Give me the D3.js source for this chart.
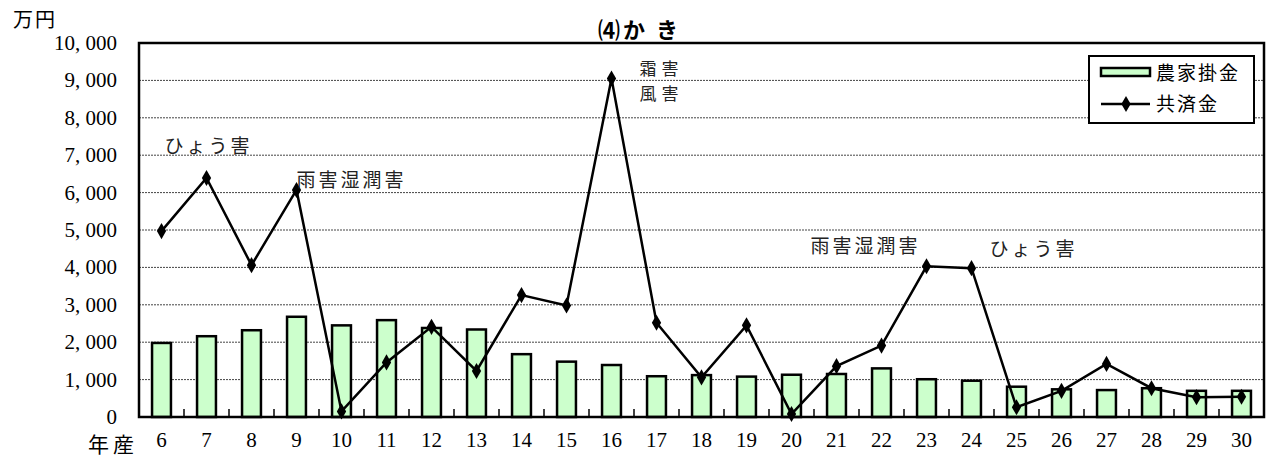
<!DOCTYPE html>
<html>
<head>
<meta charset="utf-8">
<script src="https://cdn.jsdelivr.net/npm/d3@7"></script>
<style>
  body { margin: 0; background: #fff; }
  .num { font-family: "Liberation Serif", "DejaVu Serif", "Times New Roman", serif; }
  .jp { font-family: "Noto Sans CJK JP", sans-serif; }
</style>
</head>
<body>
<svg width="1272" height="464"></svg>
<script>
const years = ["6","7","8","9","10","11","12","13","14","15","16","17","18","19","20","21","22","23","24","25","26","27","28","29","30"]
// 農家掛金 (bars)
const premium = [1980,2160,2320,2680,2450,2590,2380,2340,1680,1480,1390,1090,1120,1080,1130,1150,1300,1010,970,810,740,720,770,700,700]
// 共済金 (line)
const payout = [4970,6390,4060,6070,150,1460,2410,1230,3260,2980,9050,2520,1060,2450,80,1360,1910,4030,3980,260,700,1420,770,530,540]
const yTicks = [0,1000,2000,3000,4000,5000,6000,7000,8000,9000,10000]
// damage notes next to a year's point
const notes = [
    { year: "7", lines: ["ひょう害"], dx: -42, dy: -25 },
    { year: "9", lines: ["雨害湿潤害"], dx: 0, dy: -3 },
    { year: "16", lines: ["霜害", "風害"], dx: 28, dy: -4 },
    { year: "23", lines: ["雨害湿潤害"], dx: -116, dy: -13 },
    { year: "24", lines: ["ひょう害"], dx: 18, dy: -12 }
]

const svg = d3.select("svg"),
    pLeft = 139, pRight = 1264, pTop = 43, pBottom = 417

const x = d3.scaleBand().domain(years).range([pLeft, pRight]).paddingInner(0.58).paddingOuter(0.29)
const xc = d => x(d) + x.bandwidth() / 2
const y = d3.scaleLinear().domain([0, 10000]).range([pBottom, pTop])
const fmt = v => d3.format(",")(v).replace(",", ", ")

// grid lines
svg.append("g")
    .selectAll("line")
    .data(yTicks.slice(1, -1))
    .enter()
    .append("line")
    .attr("x1", pLeft).attr("x2", pRight)
    .attr("y1", d => y(d)).attr("y2", d => y(d))
    .attr("stroke", "#444")
    .attr("stroke-width", 1)
    .attr("stroke-dasharray", "2,1")

// y axis labels
svg.append("g")
    .selectAll("text")
    .data(yTicks)
    .enter()
    .append("text")
    .attr("class", "num")
    .attr("x", 117)
    .attr("y", d => y(d) + 7)
    .attr("text-anchor", "end")
    .attr("font-size", 21)
    .text(d => fmt(d))

svg.append("text").attr("class", "jp").attr("x", 13).attr("y", 27)
    .attr("font-size", 20).attr("letter-spacing", 2).text("万円")

// bars
svg.append("g")
    .selectAll("rect")
    .data(premium)
    .enter()
    .append("rect")
    .attr("x", (d, i) => x(years[i]))
    .attr("y", d => y(d))
    .attr("width", x.bandwidth())
    .attr("height", d => pBottom - y(d))
    .attr("fill", "#ccffcc")
    .attr("stroke", "#000")
    .attr("stroke-width", 2.5)

// category ticks
const step = x.step()
svg.append("g")
    .selectAll("line")
    .data(years.slice(0, -1))
    .enter()
    .append("line")
    .attr("x1", d => xc(d) + step / 2).attr("x2", d => xc(d) + step / 2)
    .attr("y1", pBottom).attr("y2", pBottom - 8)
    .attr("stroke", "#000").attr("stroke-width", 1.5)

// plot frame
svg.append("rect")
    .attr("x", pLeft).attr("y", pTop)
    .attr("width", pRight - pLeft).attr("height", pBottom - pTop)
    .attr("fill", "none").attr("stroke", "#000").attr("stroke-width", 2.5)

// line
const line = d3.line().x((d, i) => xc(years[i])).y(d => y(d))
svg.append("path")
    .datum(payout)
    .attr("d", line)
    .attr("fill", "none")
    .attr("stroke", "#000")
    .attr("stroke-width", 2.5)

const diamond = d3.symbol().type(d3.symbolDiamond).size(75)
svg.append("g")
    .selectAll("path")
    .data(payout)
    .enter()
    .append("path")
    .attr("d", diamond)
    .attr("transform", (d, i) => `translate(${xc(years[i])},${y(d)})`)
    .attr("fill", "#000")

// x labels
svg.append("g")
    .selectAll("text")
    .data(years)
    .enter()
    .append("text")
    .attr("class", "num")
    .attr("x", d => xc(d))
    .attr("y", 447)
    .attr("text-anchor", "middle")
    .attr("font-size", 21)
    .text(d => d)

svg.append("text").attr("class", "jp").attr("x", 88).attr("y", 452)
    .attr("font-size", 21).attr("letter-spacing", 4).text("年産")

// title
svg.append("text").attr("class", "jp")
    .attr("x", 598).attr("y", 38)
    .attr("font-size", 22).attr("font-weight", "bold").attr("letter-spacing", 3)
    .text("⑷か き")

// notes
notes.forEach(function (n) {
    const v = payout[years.indexOf(n.year)]
    const multi = n.lines.length > 1
    n.lines.forEach(function (s, k) {
        svg.append("text").attr("class", "jp")
            .attr("x", xc(n.year) + n.dx)
            .attr("y", y(v) + n.dy + k * 25)
            .attr("font-size", multi ? 17 : 19)
            .attr("letter-spacing", multi ? 5 : 3)
            .attr("fill", "#222")
            .text(s)
    })
})

// legend
const lg = svg.append("g").attr("transform", "translate(1089,56)")
lg.append("rect").attr("width", 165).attr("height", 67)
    .attr("fill", "#fff").attr("stroke", "#000").attr("stroke-width", 2)
lg.append("rect").attr("x", 12).attr("y", 12).attr("width", 49).attr("height", 8)
    .attr("fill", "#ccffcc").attr("stroke", "#000").attr("stroke-width", 2.5)
lg.append("text").attr("class", "jp").attr("x", 67).attr("y", 24)
    .attr("font-size", 19).attr("letter-spacing", 2).text("農家掛金")
lg.append("line").attr("x1", 12).attr("x2", 61).attr("y1", 48).attr("y2", 48)
    .attr("stroke", "#000").attr("stroke-width", 2.5)
lg.append("path").attr("d", diamond).attr("transform", "translate(37,48)").attr("fill", "#000")
lg.append("text").attr("class", "jp").attr("x", 67).attr("y", 55)
    .attr("font-size", 19).attr("letter-spacing", 2).text("共済金")
</script>
</body>
</html>
